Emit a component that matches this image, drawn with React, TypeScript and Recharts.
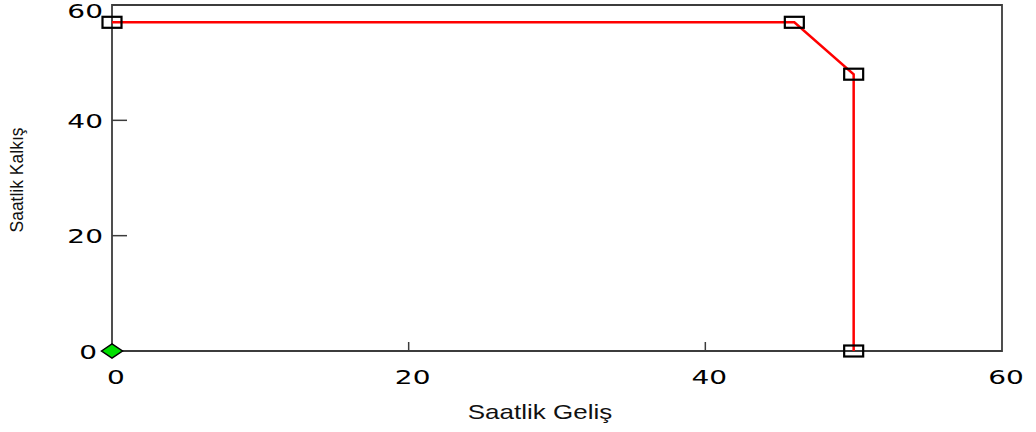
import React from 'react';
import { ScatterChart, Scatter, XAxis, YAxis, ReferenceArea } from 'recharts';

const arrivals = [0, 46, 50, 50];
const departures = [57, 57, 48, 0];
const startArrivals = [0];
const startDepartures = [0];
const xTicks = [0, 20, 40, 60];
const yTicks = [0, 20, 40, 60];
const xLabel = 'Saatlik Geliş';
const yLabel = 'Saatlik Kalkış';

const curve = arrivals.map((x, i) => ({ x, y: departures[i] }));
const start = startArrivals.map((x, i) => ({ x, y: startDepartures[i] }));

const TICK_FONT = '"DejaVu Sans", Verdana, sans-serif';
const FRAME = '#3c3c3c';

const XTick = (props: any) => {
  const { x, y, payload } = props;
  const v = payload.value;
  const inner = v !== xTicks[0] && v !== xTicks[xTicks.length - 1];
  return (
    <g>
      {inner && <line x1={x} y1={y} x2={x} y2={y - 9} stroke={FRAME} strokeWidth={1.5} />}
      <g transform={`translate(${x + 4},${y + 33}) scale(1.4,1)`}>
        <text x={0} y={0} textAnchor="middle" fontFamily={TICK_FONT} fontSize={20} fill="#000">
          {v}
        </text>
      </g>
    </g>
  );
};

const YTick = (props: any) => {
  const { x, y, payload } = props;
  const v = payload.value;
  const inner = v !== yTicks[0] && v !== yTicks[yTicks.length - 1];
  const cy = Math.max(y, 10.5);
  const gap = v === yTicks[0] ? 15 : 9;
  return (
    <g>
      {inner && <line x1={x} y1={y} x2={x + 15} y2={y} stroke={FRAME} strokeWidth={1.5} />}
      <g transform={`translate(${x - gap},${cy + 7.5}) scale(1.4,1)`}>
        <text x={0} y={0} textAnchor="end" fontFamily={TICK_FONT} fontSize={20} fill="#000">
          {v}
        </text>
      </g>
    </g>
  );
};

const BoxShape = (props: any) => {
  const { cx, cy } = props;
  return <rect x={cx - 9.5} y={cy - 5.5} width={19} height={11} fill="none" stroke="#000" strokeWidth={2.2} />;
};

const DiamondShape = (props: any) => {
  const { cx, cy } = props;
  const pts = `${cx - 10.5},${cy} ${cx},${cy - 7} ${cx + 10.5},${cy} ${cx},${cy + 7}`;
  return <polygon points={pts} fill="#00e000" stroke="#000" strokeWidth={1.5} />;
};

export default function App() {
  return (
    <div style={{ position: 'absolute', left: 0, top: 0, width: 1036, height: 432, background: '#fff' }}>
      <ScatterChart width={1036} height={432} margin={{ top: 5, right: 34, bottom: 0, left: 0 }}>
        <XAxis
          type="number"
          dataKey="x"
          domain={[0, 60]}
          ticks={xTicks}
          height={81}
          axisLine={false}
          tickLine={false}
          tickSize={0}
          tickMargin={0}
          tick={<XTick />}
          interval={0}
        />
        <YAxis
          type="number"
          dataKey="y"
          domain={[0, 60]}
          ticks={yTicks}
          width={112}
          axisLine={false}
          tickLine={false}
          tickSize={0}
          tickMargin={0}
          tick={<YTick />}
          interval={0}
        />
        <ReferenceArea x1={0} x2={60} y1={0} y2={60} fill="none" stroke={FRAME} strokeWidth={1.8} />
        <Scatter
          data={curve}
          line={{ stroke: '#ff0000', strokeWidth: 2.5 }}
          lineType="joint"
          shape={<BoxShape />}
          isAnimationActive={false}
        />
        <Scatter data={start} shape={<DiamondShape />} isAnimationActive={false} />
        <g transform="translate(540,419) scale(1.3,1)">
          <text x={0} y={0} textAnchor="middle" fontFamily='"Liberation Sans", Arial, sans-serif' fontSize={20} fill="#111">
            {xLabel}
          </text>
        </g>
        <g transform="translate(23,180) rotate(-90)">
          <text x={0} y={0} textAnchor="middle" fontFamily='"Liberation Sans", Arial, sans-serif' fontSize={17.5} fill="#111">
            {yLabel}
          </text>
        </g>
      </ScatterChart>
    </div>
  );
}
